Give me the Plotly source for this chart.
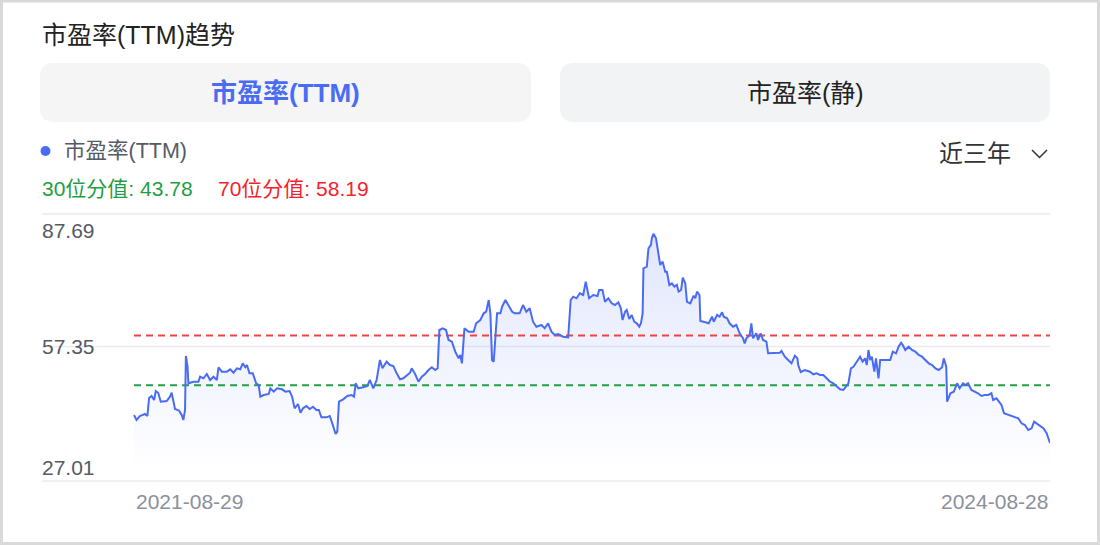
import pandas as pd
import plotly.graph_objects as go

# 市盈率(TTM) 近三年走势, 读图估计
start_date = pd.Timestamp('2021-08-29')
days = [0, 3, 7, 13, 16, 18, 21, 24, 26, 29, 32, 39, 43, 45, 49, 54, 57, 59, 61, 62,
        64, 65, 71, 77, 79, 83, 87, 91, 95, 99, 101, 105, 111, 115, 119, 123, 127, 130, 133, 135,
        138, 142, 146, 149, 151, 155, 161, 163, 167, 171, 177, 181, 186, 189, 192, 196, 199, 202, 206, 210,
        214, 218, 221, 224, 230, 234, 236, 239, 241, 243, 245, 250, 255, 260, 263, 265, 268, 274, 279, 282,
        286, 290, 294, 297, 302, 306, 310, 314, 318, 322, 326, 330, 332, 336, 340, 344, 348, 352, 356, 360,
        363, 365, 369, 373, 376, 380, 384, 388, 390, 392, 395, 400, 406, 409, 414, 418, 421, 424, 426, 428,
        430, 432, 434, 438, 440, 444, 448, 452, 455, 461, 465, 469, 473, 477, 481, 487, 491, 495, 499, 503,
        507, 513, 519, 522, 525, 529, 533, 537, 540, 544, 549, 554, 556, 560, 563, 567, 571, 575, 579, 582,
        584, 587, 589, 592, 595, 598, 601, 604, 606, 608, 609, 613, 615, 618, 619, 621, 624, 627, 629, 632,
        635, 637, 640, 643, 646, 649, 651, 654, 656, 659, 661, 665, 669, 671, 673, 676, 677, 683, 687, 691,
        693, 697, 700, 703, 705, 709, 712, 716, 720, 724, 728, 730, 732, 736, 738, 740, 744, 746, 749, 752,
        756, 758, 764, 772, 774, 778, 782, 786, 790, 793, 794, 797, 802, 808, 812, 816, 820, 824, 828, 832,
        836, 840, 844, 848, 851, 854, 857, 860, 864, 868, 871, 874, 876, 878, 880, 882, 885, 887, 890, 892,
        898, 904, 907, 911, 914, 917, 919, 922, 926, 930, 934, 938, 942, 946, 950, 954, 958, 962, 966, 968,
        971, 972, 976, 980, 984, 987, 991, 994, 997, 1001, 1005, 1009, 1013, 1017, 1021, 1025, 1027, 1031, 1034, 1037,
        1040, 1045, 1049, 1053, 1057, 1061, 1065, 1069, 1073, 1076, 1081, 1087, 1091, 1095]
pe_ttm = [35.14, 33.69, 34.85, 35.43, 34.85, 40.07, 40.65, 39.49, 42.10, 41.52, 39.00, 39.20, 40.45, 41.61, 36.88, 36.39, 35.14, 33.69, 36.59, 52.25,
          49.14, 44.33, 44.80, 44.80, 46.25, 45.78, 47.03, 45.29, 46.25, 45.29, 48.97, 47.70, 47.70, 48.39, 47.41, 48.68, 48.39, 50.13, 48.97, 49.64,
          47.23, 47.23, 44.33, 43.84, 40.45, 40.94, 41.23, 42.88, 41.90, 42.88, 42.59, 41.90, 42.10, 40.45, 37.08, 38.33, 35.81, 37.08, 37.75, 36.88,
          37.55, 36.59, 36.59, 34.47, 34.47, 34.85, 33.49, 30.79, 29.63, 30.30, 39.00, 39.69, 40.65, 40.94, 40.45, 44.33, 42.88, 43.17, 43.55, 45.29,
          42.88, 45.29, 51.09, 48.68, 50.60, 49.64, 49.35, 47.23, 45.49, 45.78, 46.74, 47.41, 48.68, 47.03, 44.80, 46.25, 47.03, 48.19, 48.97, 48.19,
          48.68, 59.79, 60.28, 59.79, 56.89, 56.40, 53.50, 51.58, 52.54, 50.13, 60.28, 59.30, 59.30, 61.73, 62.69, 64.63, 65.10, 68.49, 64.63, 51.09,
          50.60, 58.83, 64.63, 64.63, 66.55, 68.49, 66.55, 65.10, 64.63, 64.63, 67.04, 65.10, 66.08, 62.20, 60.75, 61.24, 60.28, 61.73, 59.30, 58.34,
          58.63, 57.85, 57.67, 68.49, 69.45, 68.98, 70.43, 69.94, 73.80, 68.98, 69.94, 69.65, 71.39, 71.39, 67.99, 68.98, 67.53, 67.04, 67.82, 66.08,
          62.69, 65.10, 65.59, 62.98, 64.14, 62.20, 61.73, 60.75, 61.73, 64.63, 77.68, 78.15, 83.48, 84.45, 86.38, 87.69, 86.38, 81.54, 78.64, 79.60,
          76.70, 76.70, 72.84, 73.33, 72.35, 72.84, 70.90, 71.39, 74.96, 73.33, 67.99, 67.53, 69.74, 68.98, 70.90, 69.94, 62.40, 62.02, 61.73, 63.65,
          62.20, 64.14, 63.65, 64.92, 63.65, 63.18, 61.73, 60.75, 61.24, 58.83, 57.38, 55.93, 57.38, 58.34, 61.73, 57.38, 58.83, 56.89, 58.83, 56.89,
          56.40, 53.03, 53.03, 53.21, 53.70, 52.05, 51.09, 50.13, 52.34, 51.58, 49.64, 47.61, 48.19, 47.70, 46.95, 47.23, 46.74, 46.74, 45.78, 44.80,
          44.33, 43.35, 42.59, 42.39, 43.35, 44.33, 48.68, 49.14, 50.60, 52.05, 50.60, 51.58, 49.64, 53.99, 51.09, 52.05, 47.70, 51.58, 45.78, 51.09,
          51.09, 51.09, 53.50, 53.03, 54.95, 56.11, 55.44, 53.99, 54.95, 53.99, 53.50, 52.54, 52.05, 51.09, 50.13, 49.64, 48.68, 48.19, 48.97, 51.58,
          49.14, 39.00, 41.43, 41.90, 44.33, 42.88, 44.33, 43.84, 44.33, 42.39, 41.90, 41.43, 40.65, 40.94, 40.94, 41.43, 39.49, 39.98, 39.00, 38.04,
          35.63, 35.14, 34.85, 34.47, 34.18, 32.73, 32.24, 30.79, 31.28, 33.20, 32.24, 31.28, 29.84, 27.01]
assert len(days) == len(pe_ttm)

p30 = 43.78
p70 = 58.19
tab_labels = ['市盈率(TTM)', '市盈率(静)']
period_label = '近三年'

dates = start_date + pd.to_timedelta(days, unit='D')
pe_max, pe_min = max(pe_ttm), min(pe_ttm)
y_labels = [f'{pe_max:.2f}', f'{(pe_max + pe_min) / 2:.2f}', f'{pe_min:.2f}']

BLUE = '#4a6cf4'
FONT = 'Liberation Sans, Noto Sans CJK SC, sans-serif'

# 画布像素 -> paper 坐标 (绘图区 42..1050 x 214..481)
L, R, T, B = 42, 1050, 214, 481


def px(x):
    return (x - L) / (R - L)


def py(y):
    return (B - y) / (B - T)


def round_rect(x0, y0, x1, y1, r):
    pts = [('M', x0 + r, y0), ('L', x1 - r, y0), ('Q', x1, y0, x1, y0 + r),
           ('L', x1, y1 - r), ('Q', x1, y1, x1 - r, y1), ('L', x0 + r, y1),
           ('Q', x0, y1, x0, y1 - r), ('L', x0, y0 + r), ('Q', x0, y0, x0 + r, y0)]
    out = []
    for p in pts:
        vals = p[1:]
        coords = ' '.join(f'{px(vals[i]):.5f},{py(vals[i + 1]):.5f}' for i in range(0, len(vals), 2))
        out.append(f'{p[0]} {coords}')
    return ' '.join(out) + ' Z'


fig = go.Figure()

# 面积渐变
fig.add_trace(go.Scatter(
    x=dates, y=pe_ttm, mode='lines',
    line=dict(width=0, color=BLUE),
    fill='tozeroy',
    fillgradient=dict(type='vertical', start=19, stop=pe_max,
                      colorscale=[[0, 'rgba(74,108,244,0.0)'], [1, 'rgba(74,108,244,0.17)']]),
    hoverinfo='skip',
))

# 分位线
fig.add_trace(go.Scatter(x=[dates[0], dates[-1]], y=[p70, p70], mode='lines',
                         line=dict(color='#f04444', width=2, dash='7px,5px'), hoverinfo='skip'))
fig.add_trace(go.Scatter(x=[dates[0], dates[-1]], y=[p30, p30], mode='lines',
                         line=dict(color='#23a043', width=2, dash='7px,5px'), hoverinfo='skip'))

fig.add_trace(go.Scatter(x=dates, y=pe_ttm, mode='lines', name='市盈率(TTM)',
                         line=dict(color=BLUE, width=2)))

shapes = []
# 外框
shapes.append(dict(type='rect', xref='paper', yref='paper', x0=px(1.5), x1=px(1098.5),
                   y0=py(1), y1=py(543.5), line=dict(color='#d9d9d9', width=3)))
# 按钮
shapes.append(dict(type='path', xref='paper', yref='paper', path=round_rect(40, 63, 531, 122, 14),
                   fillcolor='#f5f5f5', line=dict(width=0), layer='below'))
shapes.append(dict(type='path', xref='paper', yref='paper', path=round_rect(560, 63, 1050, 122, 14),
                   fillcolor='#f2f3f5', line=dict(width=0), layer='below'))
# 图例圆点
shapes.append(dict(type='circle', xref='paper', yref='paper', x0=px(40.5), x1=px(50.5),
                   y0=py(146), y1=py(156), fillcolor=BLUE, line=dict(width=0)))
# 下拉箭头
shapes.append(dict(type='path', xref='paper', yref='paper',
                   path=f'M {px(1032)},{py(150)} L {px(1039.5)},{py(157.5)} L {px(1047)},{py(150)}',
                   line=dict(color='#333333', width=1.5)))
# 网格线
for gy in [T, (T + B) / 2 - 1, B]:
    shapes.append(dict(type='line', xref='paper', yref='paper', x0=0, x1=1, y0=py(gy), y1=py(gy),
                       line=dict(color='#ebebee', width=1.5), layer='below'))

annotations = [
    dict(text='市盈率(TTM)趋势', x=px(40), y=py(35), xanchor='left', yanchor='middle',
         font=dict(size=25, color='#222222')),
    dict(text=f'<b>{tab_labels[0]}</b>', x=px(285.5), y=py(93), xanchor='center', yanchor='middle',
         font=dict(size=26, color=BLUE)),
    dict(text=tab_labels[1], x=px(805), y=py(93), xanchor='center', yanchor='middle',
         font=dict(size=25, color='#222222')),
    dict(text='市盈率(TTM)', x=px(62), y=py(151), xanchor='left', yanchor='middle',
         font=dict(size=21.5, color='#555b66')),
    dict(text=period_label, x=px(937), y=py(154), xanchor='left', yanchor='middle',
         font=dict(size=24, color='#333333')),
    dict(text=f'30位分值: {p30:.2f}', x=px(40), y=py(188), xanchor='left', yanchor='middle',
         font=dict(size=21, color='#1f9e45')),
    dict(text=f'70位分值: {p70:.2f}', x=px(216), y=py(188), xanchor='left', yanchor='middle',
         font=dict(size=21, color='#f5222d')),
    # y 轴标签
    dict(text=y_labels[0], x=px(40), y=py(230), xanchor='left', yanchor='middle',
         font=dict(size=21, color='#555a64')),
    dict(text=y_labels[1], x=px(40), y=py(346), xanchor='left', yanchor='middle',
         font=dict(size=21, color='#555a64')),
    dict(text=y_labels[2], x=px(40), y=py(467), xanchor='left', yanchor='middle',
         font=dict(size=21, color='#555a64')),
    # x 轴标签
    dict(text=dates[0].strftime('%Y-%m-%d'), x=dates[0], xref='x', y=py(501), xanchor='left',
         yanchor='middle', font=dict(size=21, color='#8b909c')),
    dict(text=dates[-1].strftime('%Y-%m-%d'), x=dates[-1], xref='x', y=py(501), xanchor='right',
         yanchor='middle', font=dict(size=21, color='#8b909c')),
]
for a in annotations:
    a.setdefault('xref', 'paper')
    a.setdefault('yref', 'paper')
    a['showarrow'] = False

# y 轴: 数据最大/最小值对应 235/443 像素
y_lo, y_hi = 16.0, 93.43

fig.update_layout(
    width=1100, height=545,
    margin=dict(l=L, r=1100 - R, t=T, b=545 - B),
    paper_bgcolor='white', plot_bgcolor='white',
    showlegend=False,
    font=dict(family=FONT),
    shapes=shapes,
    annotations=annotations,
    xaxis=dict(type='date', range=[start_date - pd.Timedelta(days=110), dates[-1]],
               showgrid=False, showticklabels=False, zeroline=False, showline=False),
    yaxis=dict(range=[y_lo, y_hi], showgrid=False, showticklabels=False, zeroline=False, showline=False),
)

# 页面默认 body 有 8px 边距, 去掉
fig.write_html('out.html', config={'displayModeBar': False},
               post_script="document.body.style.margin='0';document.body.style.overflow='hidden';")
